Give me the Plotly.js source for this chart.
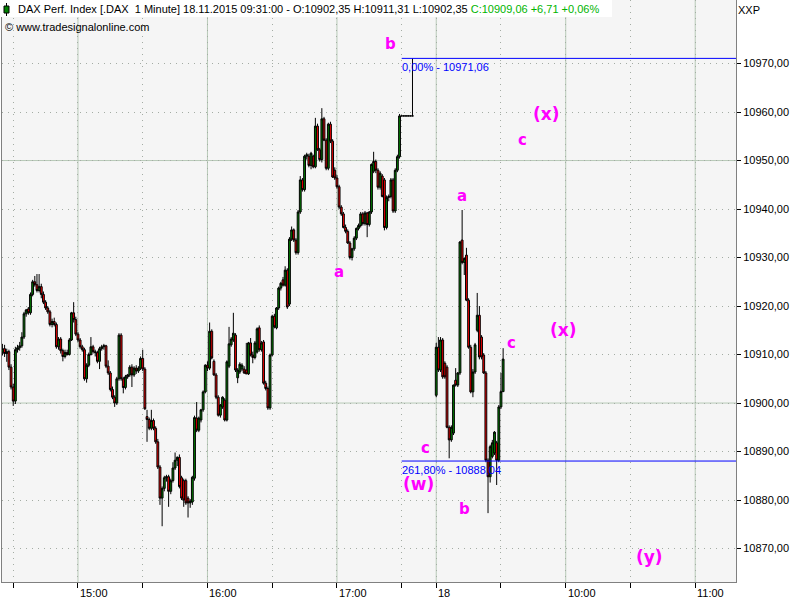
<!DOCTYPE html>
<html>
<head>
<meta charset="utf-8">
<script src="https://cdn.plot.ly/plotly-3.0.1.min.js"></script>
<style>html,body{margin:0;padding:0;background:#fff}#chart{width:800px;height:600px}</style>
</head>
<body>
<div id="chart"></div>
<script>
// ---------------- DATA ----------------
// Day 1 (17.11.2015): consecutive 1-minute bars starting 14:25
const day1Start = '14:25';
const day1Open = [10910.5,10911.2,10910.2,10910.6,10907.4,10903.3,10900.4,10911.0,10911.4,10911.8,
10913.6,10918.4,10919.4,10918.6,10922.4,10925.0,10924.4,10923.2,10924.0,10922.4,
10920.8,10919.6,10918.8,10916.2,10916.8,10916.2,10911.6,10913.2,10910.8,10909.6,
10910.4,10910.0,10913.0,10918.6,10917.2,10914.2,10913.0,10911.6,10911.0,10905.0,
10907.8,10910.0,10911.6,10910.6,10910.4,10908.6,10911.2,10911.6,10911.8,10907.6,
10906.2,10902.8,10901.2,10900.0,10905.0,10914.0,10905.0,10903.2,10905.4,10905.8,
10907.4,10905.8,10907.2,10906.6,10907.2,10909.2,10907.0,10897.2,10896.6,10894.8,
10896.4,10894.8,10892.0,10886.8,10880.4,10882.4,10884.6,10884.8,10881.8,10884.0,
10886.6,10888.2,10888.8,10884.6,10884.0,10884.0,10880.4,10879.4,10879.6,10884.5,
10896.9,10894.4,10896.5,10898.6,10902.3,10907.8,10907.2,10914.8,10908.6,10905.8,
10901.2,10897.5,10899.2,10900.6,10896.5,10907.6,10912.0,10913.0,10914.0,10905.2,
10906.4,10907.0,10907.0,10906.8,10906.0,10912.4,10909.9,10909.4,10910.5,10915.5,
10911.0,10912.6,10904.1,10903.0,10899.0,10909.9,10917.9,10915.5,10919.6,10923.7,
10925.4,10924.3,10927.4,10920.4,10933.8,10935.7,10933.6,10931.0,10939.4,10946.0,
10944.0,10950.9,10950.9,10949.0,10950.9,10948.7,10957.1,10952.2,10950.2,10958.6,
10954.2,10948.4,10957.5,10954.0,10948.0,10946.4,10944.6,10940.4,10939.0,10936.2,
10935.4,10933.0,10930.0,10931.8,10934.0,10936.0,10936.6,10939.0,10937.0,10939.2,
10936.8,10939.4,10947.8,10949.8,10948.0,10944.5,10946.8,10946.0,10936.2,10942.4,
10942.6,10946.0,10939.6,10948.0,10950.8,10959.2,10959.2,10959.2,10959.2,10959.2,
10959.2];
const day1High = [10912.2,10912.0,10911.2,10911.0,10908.0,10904.0,10911.6,10912.0,10912.6,10914.6,
10918.8,10919.4,10919.8,10922.8,10925.4,10926.2,10926.6,10926.6,10924.6,10923.0,
10921.2,10920.0,10919.2,10917.4,10917.6,10916.6,10913.6,10913.6,10911.2,10911.0,
10911.0,10913.4,10918.8,10920.8,10917.8,10914.6,10913.4,10912.0,10911.4,10908.2,
10910.4,10913.6,10912.0,10911.0,10910.8,10911.6,10912.0,10912.2,10912.0,10908.8,
10906.6,10903.4,10901.6,10905.4,10914.4,10914.4,10905.4,10905.8,10906.0,10907.8,
10908.0,10907.6,10907.8,10907.6,10909.6,10911.0,10907.4,10898.6,10897.0,10898.6,
10896.8,10895.2,10892.6,10887.2,10882.8,10885.0,10885.2,10885.2,10884.4,10887.8,
10889.8,10889.0,10889.4,10885.0,10884.4,10884.4,10880.8,10880.2,10885.0,10897.4,
10900.2,10897.2,10898.8,10902.6,10908.0,10908.6,10916.6,10915.2,10909.0,10906.2,
10901.6,10899.8,10901.4,10901.0,10908.8,10915.7,10913.6,10918.6,10914.4,10907.2,
10908.4,10908.2,10907.6,10912.4,10912.6,10913.4,10910.6,10912.8,10915.6,10916.0,
10912.8,10913.0,10904.6,10903.4,10910.2,10918.2,10918.4,10919.8,10924.0,10925.0,
10926.0,10928.2,10927.8,10934.2,10936.4,10936.0,10934.0,10939.8,10946.8,10946.4,
10951.2,10951.6,10951.4,10951.8,10951.2,10958.8,10957.6,10952.6,10960.8,10959.0,
10954.6,10957.8,10958.0,10954.4,10948.6,10947.0,10945.0,10940.8,10939.4,10936.8,
10935.8,10933.4,10932.0,10934.4,10936.2,10937.0,10939.4,10939.4,10939.6,10939.4,
10939.6,10949.4,10951.8,10950.2,10948.4,10947.8,10947.2,10946.4,10942.8,10943.0,
10946.4,10946.4,10948.4,10951.2,10959.6,10959.2,10959.2,10959.2,10959.2,10959.2,
10971.06];
const day1Low = [10909.8,10909.5,10908.5,10906.8,10902.8,10899.4,10899.8,10910.4,10910.8,10911.4,
10913.2,10917.8,10918.2,10918.2,10922.0,10924.0,10922.8,10922.8,10921.6,10920.4,
10919.2,10918.4,10915.8,10915.6,10915.8,10911.2,10911.0,10910.2,10908.6,10909.2,
10909.8,10909.8,10912.8,10916.6,10913.8,10912.6,10911.2,10910.6,10904.6,10904.2,
10907.4,10909.8,10910.2,10909.6,10908.2,10907.0,10910.8,10911.0,10907.2,10905.8,
10902.4,10900.8,10899.2,10899.6,10904.6,10904.6,10902.0,10902.8,10905.0,10905.4,
10903.3,10905.4,10906.0,10906.2,10906.8,10906.6,10898.6,10892.0,10894.4,10894.4,
10894.4,10891.6,10886.4,10879.0,10874.6,10881.8,10883.8,10878.6,10881.2,10883.6,
10886.2,10887.0,10882.4,10880.0,10878.6,10879.0,10876.4,10878.4,10879.0,10884.0,
10894.0,10894.0,10896.0,10898.2,10902.0,10906.6,10906.8,10909.0,10905.6,10900.8,
10897.2,10897.0,10898.8,10896.2,10896.2,10907.2,10911.6,10912.6,10906.4,10904.1,
10906.0,10906.6,10906.0,10906.0,10905.8,10909.6,10908.2,10909.0,10910.2,10910.6,
10910.6,10903.8,10902.6,10898.6,10898.6,10909.6,10915.4,10915.2,10919.2,10923.2,
10924.0,10924.0,10919.4,10920.0,10933.4,10933.2,10930.6,10930.6,10939.0,10943.6,
10943.6,10950.2,10948.6,10948.2,10948.4,10948.4,10952.0,10949.8,10949.6,10954.0,
10948.0,10948.0,10953.6,10946.4,10946.0,10944.2,10940.0,10938.6,10936.0,10935.0,
10932.8,10929.6,10929.4,10931.4,10933.6,10935.6,10936.2,10936.6,10936.6,10934.2,
10936.4,10939.0,10947.4,10947.4,10944.0,10944.0,10942.4,10935.6,10935.8,10941.6,
10942.2,10939.2,10939.2,10947.6,10950.4,10959.2,10959.2,10959.2,10959.2,10959.2,
10959.2];
const day1Close = [10911.2,10910.2,10910.6,10907.4,10903.3,10900.4,10911.0,10911.4,10911.8,10913.6,
10918.4,10919.2,10918.6,10922.4,10925.0,10924.4,10923.2,10924.0,10922.4,10920.8,
10919.6,10918.8,10916.2,10916.8,10916.2,10911.6,10913.2,10910.8,10909.6,10910.4,
10910.0,10913.0,10918.6,10917.2,10914.2,10913.0,10911.6,10911.0,10905.0,10907.8,
10910.0,10911.6,10910.6,10910.4,10908.6,10911.2,10911.6,10911.8,10907.6,10906.2,
10902.8,10901.2,10900.0,10905.0,10914.0,10905.0,10903.2,10905.4,10905.8,10907.4,
10905.8,10907.2,10906.6,10907.2,10909.2,10907.0,10898.8,10896.6,10894.8,10896.4,
10894.8,10892.0,10886.8,10880.4,10882.4,10884.6,10884.8,10881.8,10884.0,10886.6,
10888.2,10888.8,10882.8,10880.4,10880.0,10879.4,10879.4,10879.8,10884.7,10897.0,
10894.4,10896.9,10898.6,10902.3,10907.8,10907.2,10914.8,10909.3,10905.8,10901.2,
10897.5,10899.6,10901.2,10896.5,10908.5,10912.2,10913.2,10914.4,10906.8,10906.8,
10908.0,10907.8,10906.2,10906.0,10912.4,10909.9,10909.4,10912.4,10915.3,10911.0,
10912.4,10904.1,10903.0,10899.0,10909.9,10917.9,10915.7,10919.6,10923.7,10924.7,
10924.3,10927.4,10919.8,10933.8,10935.7,10933.6,10931.0,10939.4,10946.0,10944.0,
10950.9,10951.2,10949.0,10951.5,10948.7,10957.1,10952.2,10950.2,10958.6,10954.2,
10948.4,10957.5,10954.0,10946.6,10946.4,10944.6,10940.4,10939.0,10936.2,10935.4,
10933.0,10930.0,10931.8,10934.0,10936.0,10936.6,10939.0,10937.0,10939.2,10936.8,
10939.4,10949.2,10949.8,10948.0,10944.5,10947.4,10942.6,10936.2,10942.4,10942.6,
10946.0,10939.6,10948.0,10950.8,10959.2,10959.2,10959.2,10959.2,10959.2,10959.2,
10959.2];

// Day 2 (18.11.2015): consecutive 1-minute bars starting 09:00
const day2Start = '09:00';
const day2Open  = [10901.6,10911.5,10906.8,10913.0,10908.2,10907.4,10895.0,10892.4,10893.8,10904.7,
10903.7,10906.2,10933.6,10929.0,10930.5,10921.2,10911.5,10902.3,10906.4,10915.0,
10918.1,10913.6,10909.9,10906.2,10888.2,10884.8,10889.0,10889.7,10891.8,10888.2,
10899.2,10902.35];
const day2High  = [10912.4,10913.6,10913.6,10913.4,10908.6,10907.8,10895.4,10895.4,10903.8,10907.2,
10906.4,10933.4,10939.8,10930.0,10932.0,10921.6,10912.0,10907.0,10912.4,10922.7,
10920.0,10914.0,10910.3,10906.6,10888.6,10891.4,10892.4,10894.2,10892.2,10899.6,
10906.2,10911.31];
const day2Low   = [10901.2,10906.4,10906.4,10905.0,10905.0,10894.8,10888.6,10892.0,10893.4,10903.4,
10903.3,10905.8,10928.6,10926.4,10921.0,10911.2,10902.0,10901.2,10906.0,10914.6,
10909.0,10909.0,10906.0,10887.8,10877.3,10883.6,10888.6,10889.3,10883.1,10887.8,
10898.8,10902.35];
const day2Close = [10911.5,10906.8,10913.0,10905.4,10905.4,10895.0,10892.4,10895.0,10903.7,10903.7,
10906.2,10933.2,10929.0,10929.8,10921.2,10911.5,10902.3,10906.4,10912.0,10918.1,
10909.5,10909.5,10906.2,10888.2,10884.8,10891.0,10891.8,10894.0,10888.2,10899.2,
10902.35,10909.06];

// axis ticks (day, time, label)
const xTickDay   = [1,1,1,1,1,1,1,2,2,2,2,2];
const xTickTime  = ['14:30','15:00','15:30','16:00','16:30','17:00','17:30','09:00','09:30','10:00','10:30','11:00'];
const xTickLabel = ['','15:00','','16:00','','17:00','','18','','10:00','','11:00'];
const yTickVals  = [10870,10880,10890,10900,10910,10920,10930,10940,10950,10960,10970];
const yTickText  = ['10870,00','10880,00','10890,00','10900,00','10910,00','10920,00','10930,00','10940,00','10950,00','10960,00','10970,00'];
const yMajorGrid = [10900,10950];

// Fibonacci levels
const fibPct    = ['0,00%','261,80%'];
const fibValues = [10971.06,10888.04];
const fibFrom   = [1,'17:30'];

// Elliott wave labels (day, time, price)
const waveText  = ['b','(x)','c','a','a','(x)','c','c','(w)','b','(y)'];
const waveDay   = [1,2,2,1,2,2,2,2,1,2,2];
const waveTime  = ['17:25','09:51','09:40','17:01','09:12','09:59','09:35','08:55','17:38','09:13','10:39'];
const wavePrice = [10974.0,10959.6,10954.2,10927.0,10942.7,10915.1,10912.4,10890.7,10883.3,10878.1,10868.2];

// -------------- helpers ---------------
const DAY2_OFFSET = 226; // slot of 09:00 on day 2 (session gap on axis)
function toMin(t){const p=t.split(':');return (+p[0])*60+(+p[1]);}
function slot(day,t){
  if(day===1) return toMin(t)-14*60;
  return DAY2_OFFSET + toMin(t)-9*60;
}
function series(day,start,n){const s0=slot(day,start);const a=[];for(let i=0;i<n;i++)a.push(s0+i);return a;}

const x1 = series(1,day1Start,day1Open.length);
const x2 = series(2,day2Start,day2Open.length);
const X = x1.concat(x2);
const O = day1Open.concat(day2Open);
const H = day1High.concat(day2High);
const L = day1Low.concat(day2Low);
const C = day1Close.concat(day2Close);

// layout geometry
const W=800, HGT=600, ML=2, MR=64, MT=0, MB=18;
const plotW = W-ML-MR, plotH = HGT-MT-MB;
const xRange = [24.8, 364.9];
const yRange = [10863.1, 10983.1];
const px2x = px => (px-ML)/plotW;
const py2y = py => 1-(py-MT)/plotH;

const FONT = 'Liberation Sans, Arial, sans-serif';
const fmt = v => v.toFixed(2).replace('.',',');

const n = C.length;
const lo=O[n-1], lh=H[n-1], ll=L[n-1], lc=C[n-1];
const chg = lc-lo, chgPct = chg/lo*100;
const headerText = 'DAX Perf. Index [.DAX\u00a0\u00a01 Minute] 18.11.2015 09:31:00 - O:'+fmt(lo)+' H:'+fmt(lh)+' L:'+fmt(ll)+
  ' <span style="color:#00b400">C:'+fmt(lc)+' '+(chg>=0?'+':'')+fmt(chg)+' '+(chgPct>=0?'+':'')+fmt(chgPct)+'%</span>';

const shapes = [];
const annotations = [];

// solid major grid
xTickLabel.forEach((lab,i)=>{
  if(lab!==''){
    shapes.push({type:'line',xref:'x',yref:'paper',x0:slot(xTickDay[i],xTickTime[i]),x1:slot(xTickDay[i],xTickTime[i]),y0:0,y1:1,
      line:{color:'#b7c9b7',width:1},layer:'below'});
  }
});
yMajorGrid.forEach(v=>{
  shapes.push({type:'line',xref:'paper',yref:'y',x0:0,x1:1,y0:v,y1:v,line:{color:'#b7c9b7',width:1},layer:'below'});
});
// fib lines
fibValues.forEach((v,i)=>{
  shapes.push({type:'line',xref:'x',yref:'y',x0:slot(fibFrom[0],fibFrom[1]),x1:xRange[1],y0:v,y1:v,line:{color:'#0000ff',width:1},layer:'above'});
  annotations.push({xref:'x',yref:'y',x:slot(fibFrom[0],fibFrom[1]),y:v,xanchor:'left',yanchor:'top',yshift:-1,xshift:-2,
    text:fibPct[i]+' - '+fmt(v),showarrow:false,font:{family:FONT,size:11,color:'#0000ff'}});
});
// header white box + icon
shapes.push({type:'rect',xref:'paper',yref:'paper',x0:px2x(0),x1:px2x(612),y0:py2y(17),y1:1,fillcolor:'#ffffff',line:{width:0},layer:'above'});
shapes.push({type:'line',xref:'paper',yref:'paper',x0:px2x(6.5),x1:px2x(6.5),y0:py2y(3),y1:py2y(16),line:{color:'#000',width:1},layer:'above'});
shapes.push({type:'rect',xref:'paper',yref:'paper',x0:px2x(4),x1:px2x(9),y0:py2y(13),y1:py2y(6),fillcolor:'#008000',line:{color:'#000',width:1},layer:'above'});

annotations.push({xref:'paper',yref:'paper',x:px2x(16),y:py2y(9),xanchor:'left',yanchor:'middle',showarrow:false,
  text:headerText,font:{family:FONT,size:11,color:'#000'}});
annotations.push({xref:'paper',yref:'paper',x:px2x(3),y:py2y(27),xanchor:'left',yanchor:'middle',showarrow:false,
  text:'\u00a9 www.tradesignalonline.com',font:{family:FONT,size:11,color:'#000'}});
annotations.push({xref:'paper',yref:'paper',x:px2x(736),y:py2y(10),xanchor:'left',yanchor:'middle',showarrow:false,
  text:'XXP',font:{family:FONT,size:11,color:'#000'}});

// x tick labels (left aligned at tick)
xTickLabel.forEach((lab,i)=>{
  if(lab!==''){
    annotations.push({xref:'x',yref:'paper',x:slot(xTickDay[i],xTickTime[i]),y:py2y(593),xanchor:'left',yanchor:'middle',xshift:0,
      showarrow:false,text:lab,font:{family:FONT,size:11,color:'#000'}});
  }
});

// wave labels
waveText.forEach((t,i)=>{
  const big = t.length>1;
  annotations.push({xref:'x',yref:'y',x:slot(waveDay[i],waveTime[i]),y:wavePrice[i],xanchor:'center',yanchor:'middle',showarrow:false,
    text:'<b>'+t+'</b>',font:{family:'DejaVu Sans, sans-serif',size:big?17:15,color:'#ff00ff'}});
});

// candles: alternate bars on two overlaid x axes so each body can be wider than one slot
function pick(arr,par){return arr.filter((_,i)=>i%2===par);}
function candleTrace(par,xa){
  return {
    type:'candlestick', xaxis:xa, yaxis:'y',
    x:pick(X,par), open:pick(O,par), high:pick(H,par), low:pick(L,par), close:pick(C,par),
    increasing:{line:{color:'#000000',width:1},fillcolor:'#008000'},
    decreasing:{line:{color:'#000000',width:1},fillcolor:'#ff0000'},
    whiskerwidth:0, showlegend:false, hoverinfo:'skip'
  };
}

const layout = {
  width:W, height:HGT,
  margin:{l:ML,r:MR,t:MT,b:MB,pad:0},
  paper_bgcolor:'#ffffff', plot_bgcolor:'#f5f5f5',
  boxgap:0.4,
  showlegend:false,
  xaxis:{type:'linear',range:xRange,rangeslider:{visible:false},
    tickmode:'array',tickvals:xTickTime.map((t,i)=>slot(xTickDay[i],t)),showticklabels:false,
    ticks:'outside',ticklen:5,tickcolor:'#000',tickwidth:1,
    showgrid:true,gridcolor:'#a4aca4',griddash:'1px,5px',gridwidth:1,
    showline:true,linecolor:'#808080',linewidth:1,mirror:true,zeroline:false,fixedrange:true},
  xaxis2:{type:'linear',range:xRange,overlaying:'x',anchor:'y',visible:false,showgrid:false,zeroline:false,
    rangeslider:{visible:false},fixedrange:true},
  yaxis:{range:yRange,side:'right',tickmode:'array',tickvals:yTickVals,ticktext:yTickText,
    ticks:'outside',ticklen:4,tickcolor:'#000',tickwidth:1,
    tickfont:{family:FONT,size:11,color:'#000'},
    showgrid:true,gridcolor:'#a4aca4',griddash:'1px,5px',gridwidth:1,
    showline:true,linecolor:'#808080',linewidth:1,mirror:true,zeroline:false,fixedrange:true},
  shapes:shapes,
  annotations:annotations,
  font:{family:FONT,size:11,color:'#000'}
};

Plotly.newPlot('chart',[candleTrace(0,'x'),candleTrace(1,'x2')],layout,{staticPlot:true,displayModeBar:false});
</script>
</body>
</html>
